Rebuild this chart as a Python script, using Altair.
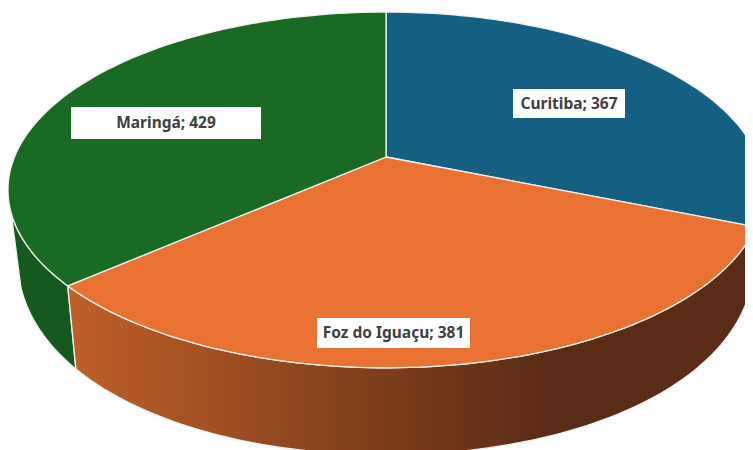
import math
import altair as alt
import pandas as pd

categories = ["Curitiba", "Foz do Iguaçu", "Maringá"]
values = [367, 381, 429]
top_colors = ["#156082", "#E97132", "#196B24"]

# label boxes in page pixels: left, right, top, bottom
label_boxes = [(513, 625, 89, 118), (317, 470, 318, 348), (71, 261, 107, 139)]
LABEL_FONT = "Noto Sans"
LABEL_SIZE = 15.5

# perspective of the pie's top and bottom discs (page pixels)
TOP = dict(cx=386, cy=157, a=371.5, b=171.8, qx=0.185, qy=0.185)
BOTTOM = dict(cx=386, cy=219.4, a=362, b=212, qx=0.185, qy=0.10)
XDOM = [8, 745]
YDOM = [450, 8]
W, H = 737, 442


def project(disc, deg):
    t = math.radians(deg)
    X, Y = math.sin(t), math.cos(t)
    return (
        disc["cx"] + disc["a"] * X / (1 + disc["qx"] * Y),
        disc["cy"] - disc["b"] * Y / (1 + disc["qy"] * Y),
    )


def arc(disc, d0, d1, n=90):
    return [project(disc, d0 + (d1 - d0) * i / n) for i in range(n + 1)]


total = sum(values)
angles = [0]
for v in values:
    angles.append(angles[-1] + v / total * 360)

x_scale = alt.Scale(domain=XDOM, nice=False, zero=False)
y_scale = alt.Scale(domain=YDOM, nice=False, zero=False)


def poly(points, fill):
    pts = list(points) + [points[0]]
    df = pd.DataFrame({"x": [p[0] for p in pts], "y": [p[1] for p in pts], "i": range(len(pts))})
    return (
        alt.Chart(df)
        .mark_line(fill=fill, stroke="#F2F2F2", strokeWidth=1.3, clip=True, strokeJoin="round")
        .encode(
            x=alt.X("x:Q", scale=x_scale, axis=None),
            y=alt.Y("y:Q", scale=y_scale, axis=None),
            order=alt.Order("i:Q"),
        )
    )


foz_gradient = alt.Gradient(
    gradient="linear",
    x1=0, x2=1, y1=0, y2=0,
    stops=[
        alt.GradientStop(offset=0, color="#C06028"),
        alt.GradientStop(offset=0.7, color="#5A2B15"),
        alt.GradientStop(offset=1, color="#5A2B15"),
    ],
)


def wall(d0, d1, fill):
    return poly(arc(TOP, d0, d1) + arc(BOTTOM, d1, d0), fill)


layers = [
    wall(104, angles[1], "#0E3F56"),
    wall(angles[2], 252, "#145A1F"),
    wall(angles[1], angles[2], foz_gradient),
]
for i in range(3):
    layers.append(poly([(TOP["cx"], TOP["cy"])] + arc(TOP, angles[i], angles[i + 1]), top_colors[i]))

label_df = pd.DataFrame({
    "label": [f"{c}; {v}" for c, v in zip(categories, values)],
    "left": [b[0] for b in label_boxes],
    "right": [b[1] for b in label_boxes],
    "top": [b[2] for b in label_boxes],
    "bottom": [b[3] for b in label_boxes],
})
label_df["xc"] = (label_df["left"] + label_df["right"]) / 2
label_df["yc"] = (label_df["top"] + label_df["bottom"]) / 2

boxes = alt.Chart(label_df).mark_rect(fill="white").encode(
    x=alt.X("left:Q", scale=x_scale, axis=None),
    x2="right:Q",
    y=alt.Y("top:Q", scale=y_scale, axis=None),
    y2="bottom:Q",
)
texts = alt.Chart(label_df).mark_text(
    font=LABEL_FONT, fontSize=LABEL_SIZE, fontWeight="bold", color="#404040", baseline="middle", align="center"
).encode(
    x=alt.X("xc:Q", scale=x_scale, axis=None),
    y=alt.Y("yc:Q", scale=y_scale, axis=None),
    text="label:N",
)

chart = (
    alt.layer(*layers, boxes, texts)
    .properties(width=W, height=H, padding=0, autosize=alt.AutoSizeParams(type="none"), background="white")
    .configure_view(stroke=None)
)
chart.save("out.html", embed_options={"renderer": "svg", "actions": False})
